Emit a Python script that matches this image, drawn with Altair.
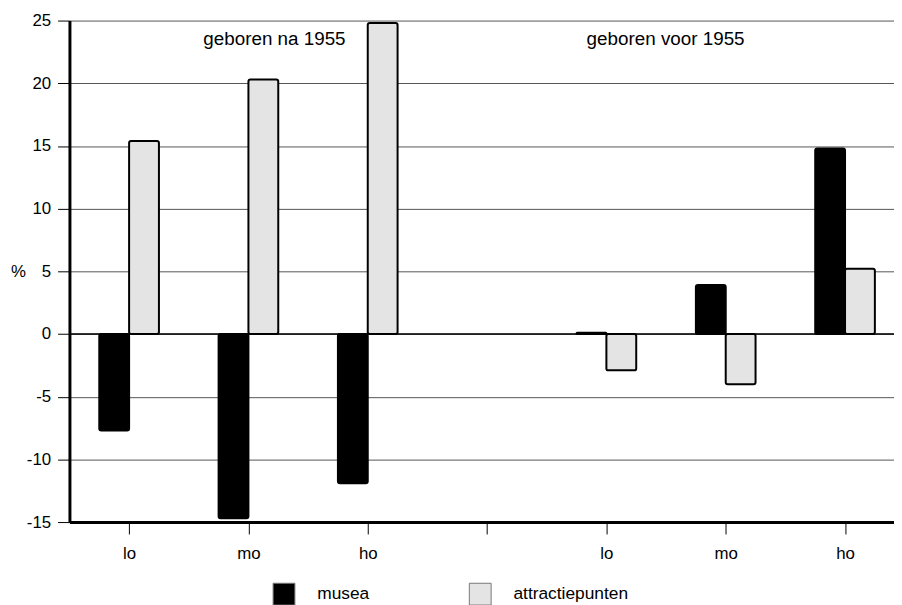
import altair as alt
import pandas as pd

# x slots: 0-2 = geboren na 1955 (lo, mo, ho), 3 = empty gap, 4-6 = geboren voor 1955
slot_labels = ["lo", "mo", "ho", "", "lo", "mo", "ho"]
bar_slots = [0, 1, 2, 4, 5, 6]
series = ["musea", "attractiepunten"]
musea = [-7.7, -14.7, -11.9, 0.1, 3.9, 14.8]
attractiepunten = [15.4, 20.3, 24.8, -2.9, -4.0, 5.2]
y_ticks = [-15, -10, -5, 0, 5, 10, 15, 20, 25]
annotations = ["geboren na 1955", "geboren voor 1955"]
annotation_slots = [1.218, 4.496]

# each slot holds two adjacent bars, each a quarter of the slot wide
BAR = 0.25
rows = []
for s, m, a in zip(bar_slots, musea, attractiepunten):
    rows.append({"x": s - BAR, "x2": s, "reeks": "musea", "waarde": m, "basis": 0})
    rows.append({"x": s, "x2": s + BAR, "reeks": "attractiepunten", "waarde": a, "basis": 0})
df = pd.DataFrame(rows)

FONT = "Liberation Sans, Arial, sans-serif"
W = 832
STEP = 120.4
xscale = alt.Scale(domain=[-0.5, -0.5 + W / STEP], nice=False, zero=False, padding=0)
yscale = alt.Scale(domain=[-15, 25], nice=False, zero=False, padding=0)

label_expr = "[" + ",".join("'%s'" % l for l in slot_labels) + "][datum.value]"

bars = alt.Chart(df).mark_bar(stroke="black", strokeWidth=2, cornerRadius=2).encode(
    x=alt.X("x:Q", scale=xscale, title=None,
            axis=alt.Axis(values=list(range(len(slot_labels))), labelExpr=label_expr,
                          labelAngle=0, domainColor="black", domainWidth=3, tickColor="black",
                          tickWidth=1, tickSize=12, labelPadding=12, labelFontSize=17,
                          labelFont=FONT, labelColor="black", grid=False, labelFlush=False,
                          labelOverlap=False)),
    x2="x2:Q",
    y=alt.Y("waarde:Q", scale=yscale,
            axis=alt.Axis(values=y_ticks, labelExpr="'' + datum.value",
                          title="%", titleAngle=0, titleX=-52, titleY=253,
                          titleAlign="center", titleBaseline="middle", titleFont=FONT,
                          titleFontSize=17, titleFontWeight="normal", titleColor="black",
                          grid=True, gridColor="#555", gridWidth=1,
                          domainColor="black", domainWidth=3, tickColor="black", tickWidth=1,
                          tickSize=12, labelPadding=7, labelFontSize=17, labelFont=FONT,
                          labelColor="black")),
    y2="basis:Q",
    fill=alt.Fill("reeks:N", sort=series,
                  scale=alt.Scale(domain=series, range=["black", "#e4e4e4"]),
                  legend=alt.Legend(title=None, orient="none", legendX=205, legendY=567,
                                    direction="horizontal", columns=2, symbolType="square",
                                    symbolSize=484, symbolStrokeColor="#777",
                                    symbolStrokeWidth=1, labelOffset=22, columnPadding=98,
                                    labelFontSize=17.5, labelFont=FONT, labelColor="black",
                                    padding=0)),
)

zero = alt.Chart(pd.DataFrame({"y": [0]})).mark_rule(color="black", strokeWidth=1.5).encode(
    y=alt.Y("y:Q", scale=yscale)
)

ann = alt.Chart(pd.DataFrame({"x": annotation_slots, "y": [23.05, 23.05], "t": annotations})).mark_text(
    font=FONT, fontSize=19, color="black", align="center", baseline="alphabetic"
).encode(x=alt.X("x:Q", scale=xscale), y=alt.Y("y:Q", scale=yscale), text="t:N")

chart = alt.layer(zero, bars, ann).properties(
    width=W, height=506,
    autosize=alt.AutoSizeParams(type="none"),
    padding={"left": 62, "top": 10, "right": 0, "bottom": 81},
    background="white",
).configure_view(stroke=None)

chart.save("out.html", embed_options={"renderer": "svg", "actions": False})
